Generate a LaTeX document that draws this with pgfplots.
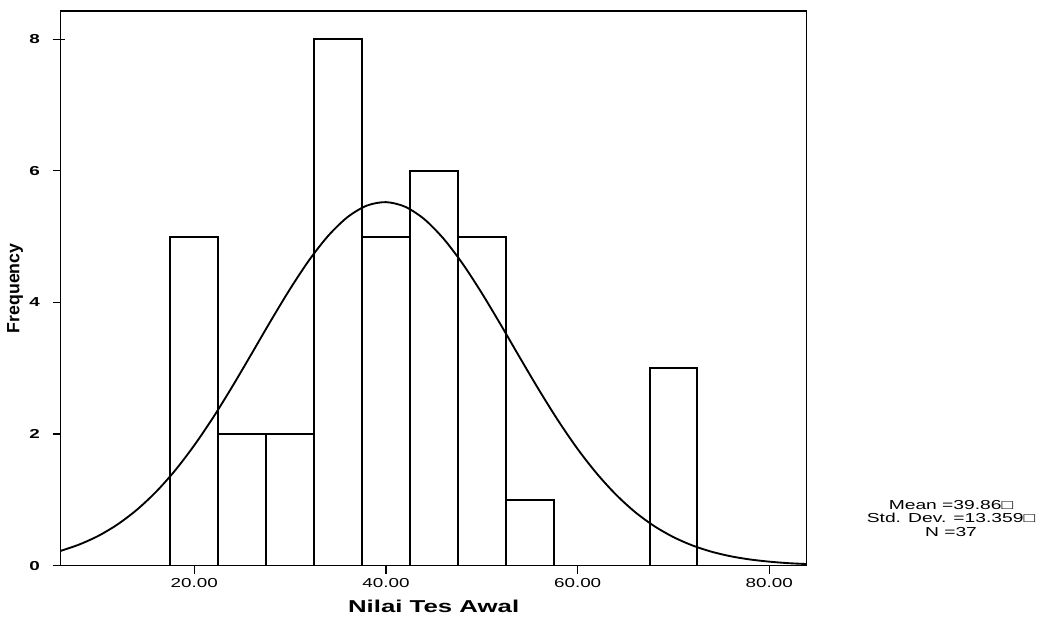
\documentclass[border=0pt]{standalone}
\usepackage{fontspec}
\setmainfont{Liberation Sans}
\usepackage{pgfplots}
\pgfplotsset{compat=1.18}

% Histogram of the pre-test scores, bin width 5
\begin{document}
\begin{tikzpicture}
\useasboundingbox (0,0) rectangle (780.75pt,465.75pt);
\begin{axis}[
  at={(45.4pt,41.5pt)}, anchor=south west,
  scale only axis, width=559.6pt, height=416pt,
  xmin=6.04, xmax=83.9, ymin=0, ymax=8.43,
  axis line style={line width=1.2pt},
  tick align=outside, tick pos=left,
  major tick length=6pt,
  tick style={line width=0.9pt, black},
  y tick style={shorten >=-3pt},
  xtick={20,40,60,80}, xticklabels={20.00,40.00,60.00,80.00},
  ytick={0,2,4,6,8}, yticklabels={0,2,4,6,8},
  xticklabel style={font=\fontsize{9.75}{11}\selectfont, xscale=1.45},
  yticklabel style={font=\bfseries\fontsize{9.75}{11}\selectfont, xscale=1.45, xshift=-3pt},
  xlabel={Nilai Tes Awal}, ylabel={Frequency},
  every axis x label/.style={at={(axis description cs:0.5,0)}, anchor=center,
    yshift=-30.4pt, font=\bfseries\fontsize{12.9}{14}\selectfont, xscale=1.5},
  every axis y label/.style={at={(axis description cs:0,0.5)}, anchor=center,
    xshift=-34pt, rotate=90, font=\bfseries\fontsize{13.3}{15}\selectfont},
  clip=true,
]
\addplot[ybar interval, fill=white, draw=black, line width=1.5pt] coordinates {
  (17.5,5) (22.5,2) (27.5,2) (32.5,8) (37.5,5) (42.5,6) (47.5,5)
  (52.5,1) (57.5,0) (62.5,0) (67.5,3) (72.5,3)
};
% fitted normal curve: N = 37, mean 39.86, sd 13.359
\addplot[smooth, black, line width=1.4pt, mark=none] coordinates {
  (6,0.222) (8,0.322) (10,0.454) (12,0.628) (14,0.849) (16,1.121)
  (18,1.448) (20,1.830) (22,2.260) (24,2.731) (26,3.226) (28,3.726)
  (30,4.207) (32,4.647) (34,5.018) (36,5.299) (38,5.472) (40,5.525)
  (42,5.455) (44,5.266) (46,4.971) (48,4.589) (50,4.142) (52,3.656)
  (54,3.155) (56,2.663) (58,2.197) (60,1.773) (62,1.400) (64,1.080)
  (66,0.814) (68,0.601) (70,0.434) (72,0.306) (74,0.211) (76,0.142)
  (78,0.094) (80,0.061) (82,0.038) (84,0.024)
};
\end{axis}
\node[align=center, font=\fontsize{9.75}{10}\selectfont, xscale=1.48, inner sep=0pt]
  at (713.25pt,77pt) {Mean =39.86□\\Std. Dev. =13.359□\\N =37};
\end{tikzpicture}
\end{document}
